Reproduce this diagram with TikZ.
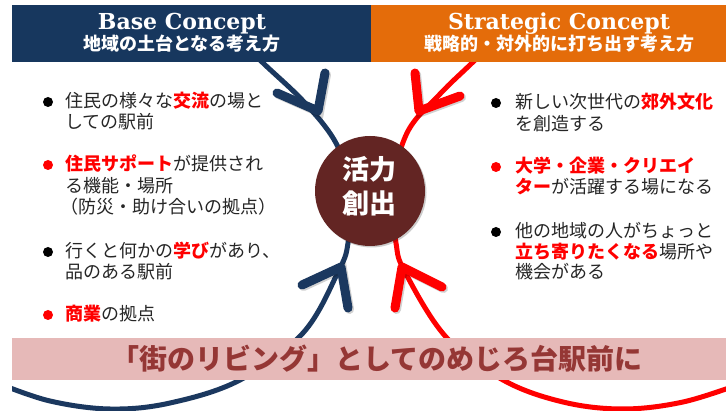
\documentclass[tikz,border=0pt]{standalone}
\usepackage{fontspec}
\setmainfont{Noto Sans CJK JP}
\newfontfamily\hdserif{DejaVu Serif}
\definecolor{hdblue}{HTML}{17375E}
\definecolor{arcblue}{HTML}{1B385F}
\definecolor{hdorange}{HTML}{E46C0A}
\definecolor{hlred}{HTML}{FF0000}
\definecolor{core}{HTML}{632523}
\definecolor{bannerpink}{HTML}{E6B9B8}
\definecolor{bannertext}{HTML}{953735}
\definecolor{bodytext}{HTML}{262626}
\newcommand\rb[1]{{\bfseries\color{hlred}#1}}
\tikzset{
  txt/.style={anchor=base west, inner sep=0pt, text=bodytext, font=\fontsize{18}{21}\selectfont},
  dotb/.style={circle, fill=black, minimum size=10pt, inner sep=0pt},
  dotr/.style={circle, fill=hlred, minimum size=10pt, inner sep=0pt},
  barb/.style={line width=9pt, line cap=round},
  barbshadow/.style={line width=9pt, line cap=round, black, opacity=0.18},
  hdtitle/.style={anchor=base, inner sep=0pt, text=white, font=\hdserif\bfseries\fontsize{22}{22}\selectfont},
  hdsub/.style={anchor=base, inner sep=0pt, text=white, font=\bfseries\fontsize{18}{18}\selectfont},
}
\begin{document}
\begin{tikzpicture}[x=1pt,y=-1pt]
\useasboundingbox (0,0) rectangle (726,411);
\fill[white] (0,0) rectangle (726,411);
% arcs
\begin{scope}
\clip (12,0) rectangle (726,411);
\draw[arcblue, line width=5pt] plot[smooth, tension=0.6] coordinates {(232,32) (262,62) (305,103) (337,145) (350,192) (348,243) (338,272) (303,333) (240,380) (170,403) (110,409) (50,401) (0,384)};
\draw[hlred, line width=5pt] plot[smooth, tension=0.6] coordinates {(503,32) (473,62) (440,94) (407,133) (392,192) (396,243) (405,272) (446,337) (503,380) (563,402) (623,409) (683,402) (740,384)};
\end{scope}
% arrowheads (shadows)
\begin{scope}[shift={(1.5,1.5)}]
\draw[barbshadow] (277,93) -- (318,111) -- (325,73);
\draw[barbshadow] (302,285) -- (341,267) -- (348,308);
\draw[barbshadow] (415,73) -- (419,111) -- (460,96);
\draw[barbshadow] (442,287) -- (402,267) -- (395,308);
\end{scope}
\draw[barb, arcblue, line join=round] (277,93) -- (318,111) -- (325,73);
\draw[barb, arcblue, line join=round] (302,285) -- (341,267) -- (348,308);
\draw[barb, hlred, line join=round] (415,73) -- (419,111) -- (460,96);
\draw[barb, hlred, line join=round] (442,287) -- (402,267) -- (395,308);
% headers
\fill[hdblue] (12,5) rectangle (371,62);
\fill[hdorange] (371,5) rectangle (726,62);
\node[hdtitle] (bt) at (182,30) {Base Concept};
\node[hdsub] (bs) at (182,51) {地域の土台となる考え方};
\node[hdtitle] (st) at (559,30) {Strategic Concept};
\node[hdsub] (ss) at (559,51) {戦略的・対外的に打ち出す考え方};
% banner
\fill[bannerpink] (12,338) rectangle (726,380);
\node[anchor=base, inner sep=0pt, text=bannertext, font=\bfseries\fontsize{28}{28}\selectfont] (ban) at (377,370) {「街のリビング」としてのめじろ台駅前に};
% core circle
\fill[black, opacity=0.2] (371.5,192.5) circle (55);
\node[circle, fill=core, minimum size=110pt, inner sep=0pt] (core) at (370,191) {};
\node[anchor=base, inner sep=0pt, text=white, font=\bfseries\fontsize{27}{27}\selectfont] (c1) at (369,180) {活力};
\node[anchor=base, inner sep=0pt, text=white, font=\bfseries\fontsize{27}{27}\selectfont] (c2) at (369,214) {創出};
% left bullets
\node[dotb] (lb1) at (48,102) {};
\node[txt] (l1a) at (65,108) {住民の様々な\rb{交流}の場と};
\node[txt] (l1b) at (65,129) {しての駅前};
\node[dotr] (lb2) at (48,165) {};
\node[txt] (l2a) at (65,171) {\rb{住民サポート}が提供され};
\node[txt] (l2b) at (65,193) {る機能・場所};
\node[txt] (l2c) at (60,214) {（防災・助け合いの拠点）};
\node[dotb] (lb3) at (48,252) {};
\node[txt] (l3a) at (65,258) {行くと何かの\rb{学び}があり、};
\node[txt] (l3b) at (65,279) {品のある駅前};
\node[dotr] (lb4) at (48,315) {};
\node[txt] (l4a) at (65,321) {\rb{商業}の拠点};
% right bullets
\node[dotb] (rb1) at (496,103) {};
\node[txt] (r1a) at (515,109) {新しい次世代の\rb{郊外文化}};
\node[txt] (r1b) at (515,131) {を創造する};
\node[dotr] (rb2) at (496,167) {};
\node[txt] (r2a) at (515,173) {\rb{大学・企業・クリエイ}};
\node[txt] (r2b) at (515,194) {\rb{ター}が活躍する場になる};
\node[dotb] (rb3) at (496,232) {};
\node[txt] (r3a) at (515,238) {他の地域の人がちょっと};
\node[txt] (r3b) at (515,259) {\rb{立ち寄りたくなる}場所や};
\node[txt] (r3c) at (515,279) {機会がある};
\end{tikzpicture}
\end{document}
